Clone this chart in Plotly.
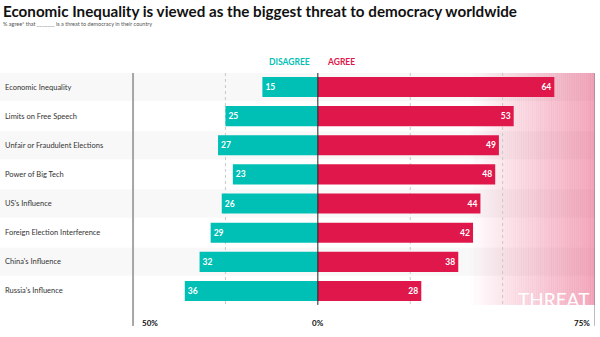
import plotly.graph_objects as go

# Survey items, top to bottom
categories = [
    "Economic Inequality",
    "Limits on Free Speech",
    "Unfair or Fraudulent Elections",
    "Power of Big Tech",
    "US's Influence",
    "Foreign Election Interference",
    "China's Influence",
    "Russia's Influence",
]
disagree = [15, 25, 27, 23, 26, 29, 32, 36]
agree = [64, 53, 49, 48, 44, 42, 38, 28]
tick_labels = ["50%", "0%", "75%"]

TEAL = "#00BFB5"
CRIMSON = "#E0174B"
FONT = "Lato"

rows = list(range(len(categories)))
X_MIN, X_MAX = -86, 75

fig = go.Figure()

fig.add_trace(go.Bar(
    y=rows, x=[-v for v in disagree], orientation="h",
    marker=dict(color=TEAL, line=dict(width=0)), width=0.69,
    text=[str(v) for v in disagree], textposition="inside",
    insidetextanchor="end", textangle=0,
    textfont=dict(family=FONT, size=8.5, color="white", weight="bold"),
    hoverinfo="skip", cliponaxis=False,
))
fig.add_trace(go.Bar(
    y=rows, x=agree, orientation="h",
    marker=dict(color=CRIMSON, line=dict(width=0)), width=0.69,
    text=[str(v) for v in agree], textposition="inside",
    insidetextanchor="end", textangle=0,
    textfont=dict(family=FONT, size=8.5, color="white", weight="bold"),
    hoverinfo="skip", cliponaxis=False,
))

shapes = []
# alternating row stripes
for i in rows:
    if i % 2 == 0:
        shapes.append(dict(type="rect", xref="x", yref="y", layer="below",
                           x0=X_MIN, x1=X_MAX, y0=i - 0.48, y1=i + 0.48,
                           fillcolor="#f8f8f8", line=dict(width=0)))

# pink "threat" zone fading in toward the right edge
g0, g1, steps = 41.0, 75.0, 60
for k in range(steps):
    a = 0.42 * (k + 0.5) / steps
    xa = g0 + (g1 - g0) * k / steps
    xb = g0 + (g1 - g0) * (k + 1) / steps + 0.05
    shapes.append(dict(type="rect", xref="x", yref="y", layer="below",
                       x0=xa, x1=xb, y0=-0.48, y1=7.48,
                       fillcolor=f"rgba(226,48,98,{a:.3f})", line=dict(width=0)))

# dashed guides at +/-25 and 50
for gx in (-25, 25, 50):
    shapes.append(dict(type="line", xref="x", yref="y", layer="below",
                       x0=gx, x1=gx, y0=-0.48, y1=7.48,
                       line=dict(color="#c8c8c8", width=1, dash="3px,3px")))
# axis lines
shapes.append(dict(type="line", xref="x", yref="y", x0=-50, x1=-50,
                   y0=-0.48, y1=8.2, line=dict(color="#a6a6a6", width=2)))
shapes.append(dict(type="line", xref="x", yref="y", x0=75, x1=75,
                   y0=-0.48, y1=8.2, line=dict(color="#7a7a7a", width=1)))
shapes.append(dict(type="line", xref="x", yref="y", x0=0, x1=0,
                   y0=-0.48, y1=7.48, line=dict(color="#222222", width=1)))

annotations = []
for i, c in enumerate(categories):
    annotations.append(dict(x=-85.3, y=i, xref="x", yref="y", text=c,
                            showarrow=False, xanchor="left", yanchor="middle",
                            font=dict(family=FONT, size=7.5, color="#333333")))

annotations += [
    dict(x=-1.6, y=-0.86, xref="x", yref="y", text="DISAGREE", showarrow=False,
         xanchor="right", yanchor="middle",
         font=dict(family=FONT, size=8.5, color=TEAL, weight="bold")),
    dict(x=1.9, y=-0.86, xref="x", yref="y", text="AGREE", showarrow=False,
         xanchor="left", yanchor="middle",
         font=dict(family=FONT, size=8.5, color=CRIMSON, weight="bold")),
    dict(x=-48, y=8.1, xref="x", yref="y", text=tick_labels[0], showarrow=False,
         xanchor="left", yanchor="middle",
         font=dict(family=FONT, size=8, color="#111111", weight="bold")),
    dict(x=0, y=8.1, xref="x", yref="y", text=tick_labels[1], showarrow=False,
         xanchor="center", yanchor="middle",
         font=dict(family=FONT, size=8, color="#111111", weight="bold")),
    dict(x=74.2, y=8.1, xref="x", yref="y", text=tick_labels[2], showarrow=False,
         xanchor="right", yanchor="middle",
         font=dict(family=FONT, size=8, color="#111111", weight="bold")),
    dict(x=74, y=7.3, xref="x", yref="y", text="THREAT", showarrow=False,
         xanchor="right", yanchor="middle",
         font=dict(family=FONT, size=19, color="white")),
    dict(x=0.002, y=1.0 + 29.5 / 297, xref="paper", yref="paper",
         text="<b>Economic Inequality is viewed as the biggest threat to democracy worldwide</b>",
         showarrow=False, xanchor="left", yanchor="middle",
         font=dict(family=FONT, size=15.2, color="#111111")),
    dict(x=0.002, y=1.0 + 16 / 297, xref="paper", yref="paper",
         text="% agree* that _______ is a threat to democracy in their country",
         showarrow=False, xanchor="left", yanchor="middle",
         font=dict(family=FONT, size=5.5, color="#555555")),
]

fig.update_layout(
    width=600, height=337,
    margin=dict(l=0, r=5, t=40, b=0),
    paper_bgcolor="white", plot_bgcolor="rgba(0,0,0,0)",
    barmode="overlay", showlegend=False,
    xaxis=dict(range=[X_MIN, X_MAX], visible=False, fixedrange=True),
    yaxis=dict(range=[8.58, -1.613], visible=False, fixedrange=True),
    shapes=shapes, annotations=annotations,
    uniformtext=dict(mode=False),
)

fig.write_html("out.html")
